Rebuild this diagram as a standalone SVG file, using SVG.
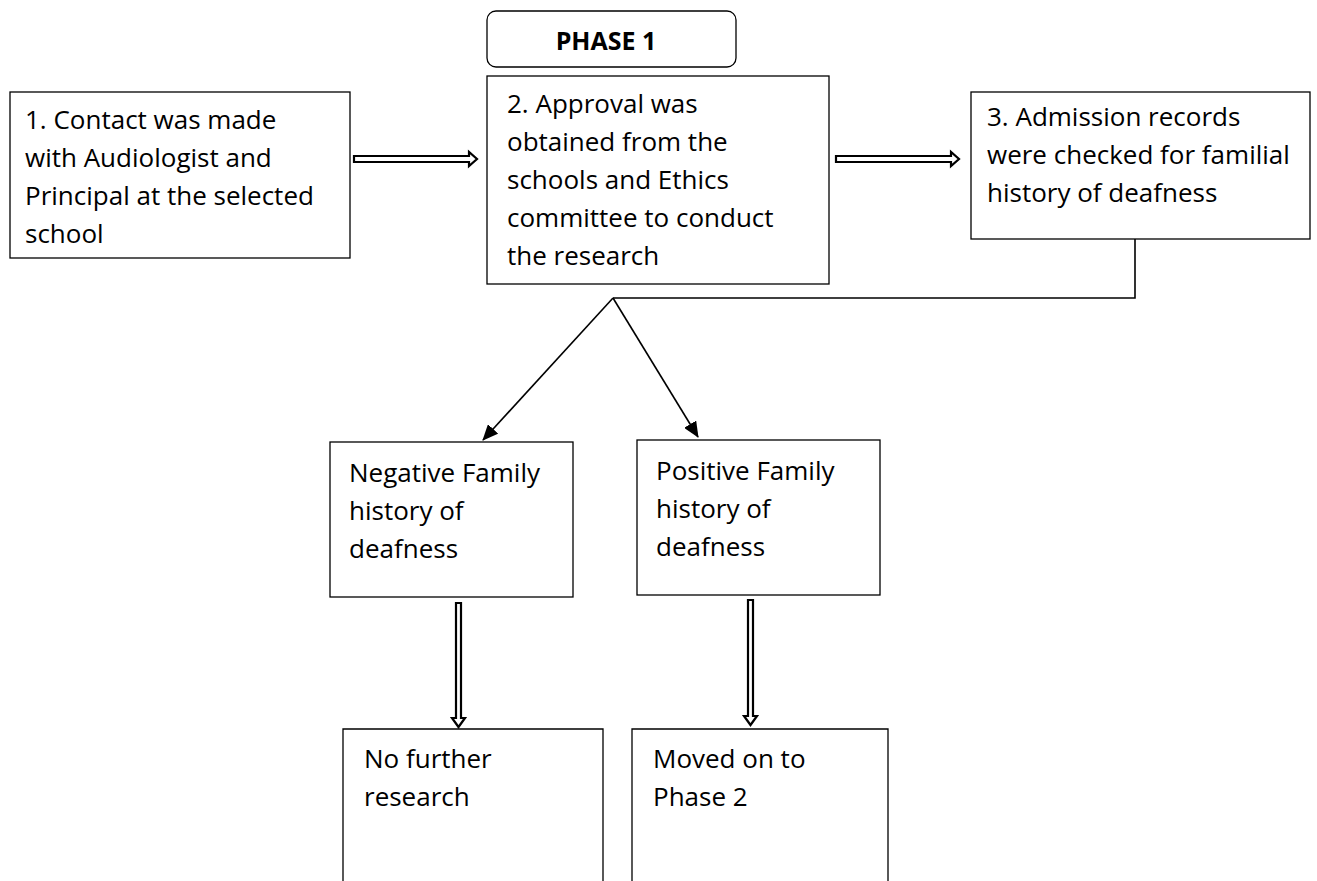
<svg xmlns="http://www.w3.org/2000/svg" width="1317" height="881" viewBox="0 0 1317 881">
  <style>
    .box { fill: #ffffff; stroke: #000000; stroke-width: 1.3; }
    .lbl { font-family: "Open Sans", "Liberation Sans", sans-serif; font-size: 26px; fill: #000000; }
    .title { font-family: "Open Sans", "Liberation Sans", sans-serif; font-size: 25px; font-weight: bold; fill: #000000; }
    .line { fill: none; stroke: #000000; stroke-width: 1.6; }
    .hollow { fill: #ffffff; stroke: #000000; stroke-width: 2.2; stroke-linejoin: miter; }
  </style>
  <defs>
    <marker id="tri" viewBox="0 0 16 14" refX="15" refY="7" markerWidth="16" markerHeight="14" markerUnits="userSpaceOnUse" orient="auto">
      <path d="M0,0 L16,7 L0,14 Z" fill="#000000"/>
    </marker>
  </defs>
  <rect width="1317" height="881" fill="#ffffff"/>

  <!-- phase heading -->
  <g id="phase1">
    <rect class="box" x="487" y="11" width="249" height="56" rx="9"/>
    <text class="title" x="606" y="50" text-anchor="middle">PHASE 1</text>
  </g>

  <!-- step 1 -->
  <g id="step1">
    <rect class="box" x="10" y="92" width="340" height="166"/>
    <text class="lbl">
      <tspan x="25" y="129">1. Contact was made</tspan>
      <tspan x="25" y="167">with Audiologist and</tspan>
      <tspan x="25" y="205">Principal at the selected</tspan>
      <tspan x="25" y="243">school</tspan>
    </text>
  </g>

  <!-- step 2 -->
  <g id="step2">
    <rect class="box" x="487" y="76" width="342" height="208"/>
    <text class="lbl">
      <tspan x="507" y="113">2. Approval was</tspan>
      <tspan x="507" y="151">obtained from the</tspan>
      <tspan x="507" y="189">schools and Ethics</tspan>
      <tspan x="507" y="227">committee to conduct</tspan>
      <tspan x="507" y="265">the research</tspan>
    </text>
  </g>

  <!-- step 3 -->
  <g id="step3">
    <rect class="box" x="971" y="92" width="339" height="147"/>
    <text class="lbl">
      <tspan x="987" y="126">3. Admission records</tspan>
      <tspan x="987" y="164">were checked for familial</tspan>
      <tspan x="987" y="202">history of deafness</tspan>
    </text>
  </g>

  <!-- negative outcome -->
  <g id="negative">
    <rect class="box" x="330" y="442" width="243" height="155"/>
    <text class="lbl">
      <tspan x="349" y="482">Negative Family</tspan>
      <tspan x="349" y="520">history of</tspan>
      <tspan x="349" y="558">deafness</tspan>
    </text>
  </g>

  <!-- positive outcome -->
  <g id="positive">
    <rect class="box" x="637" y="440" width="243" height="155"/>
    <text class="lbl">
      <tspan x="656" y="480">Positive Family</tspan>
      <tspan x="656" y="518">history of</tspan>
      <tspan x="656" y="556">deafness</tspan>
    </text>
  </g>

  <!-- end: no further research (box runs past the page edge) -->
  <g id="stop">
    <path class="box" d="M343,890 V729 H603 V890"/>
    <text class="lbl">
      <tspan x="364" y="768">No further</tspan>
      <tspan x="364" y="806">research</tspan>
    </text>
  </g>

  <!-- end: moved on to phase 2 -->
  <g id="phase2">
    <path class="box" d="M632,890 V729 H888 V890"/>
    <text class="lbl">
      <tspan x="653" y="768">Moved on to</tspan>
      <tspan x="653" y="806">Phase 2</tspan>
    </text>
  </g>

  <!-- connectors -->
  <g id="connectors">
    <!-- hollow block arrows between steps -->
    <polygon class="hollow" points="354,156 469,156 469,152 477,159 469,166 469,162 354,162"/>
    <polygon class="hollow" points="836,156 951,156 951,152 959,159 951,166 951,162 836,162"/>
    <!-- step 3 feeds back to the branch point -->
    <polyline class="line" points="1135,239 1135,298 613,298"/>
    <line class="line" x1="613" y1="298" x2="483" y2="440" marker-end="url(#tri)"/>
    <line class="line" x1="613" y1="298" x2="698" y2="437" marker-end="url(#tri)"/>
    <!-- hollow block arrows down to the outcomes -->
    <polygon class="hollow" points="456,603 461,603 461,718 465,718 458.5,727 452,718 456,718"/>
    <polygon class="hollow" points="748,600 753,600 753,716 757,716 750.5,725 744,716 748,716"/>
  </g>
</svg>
